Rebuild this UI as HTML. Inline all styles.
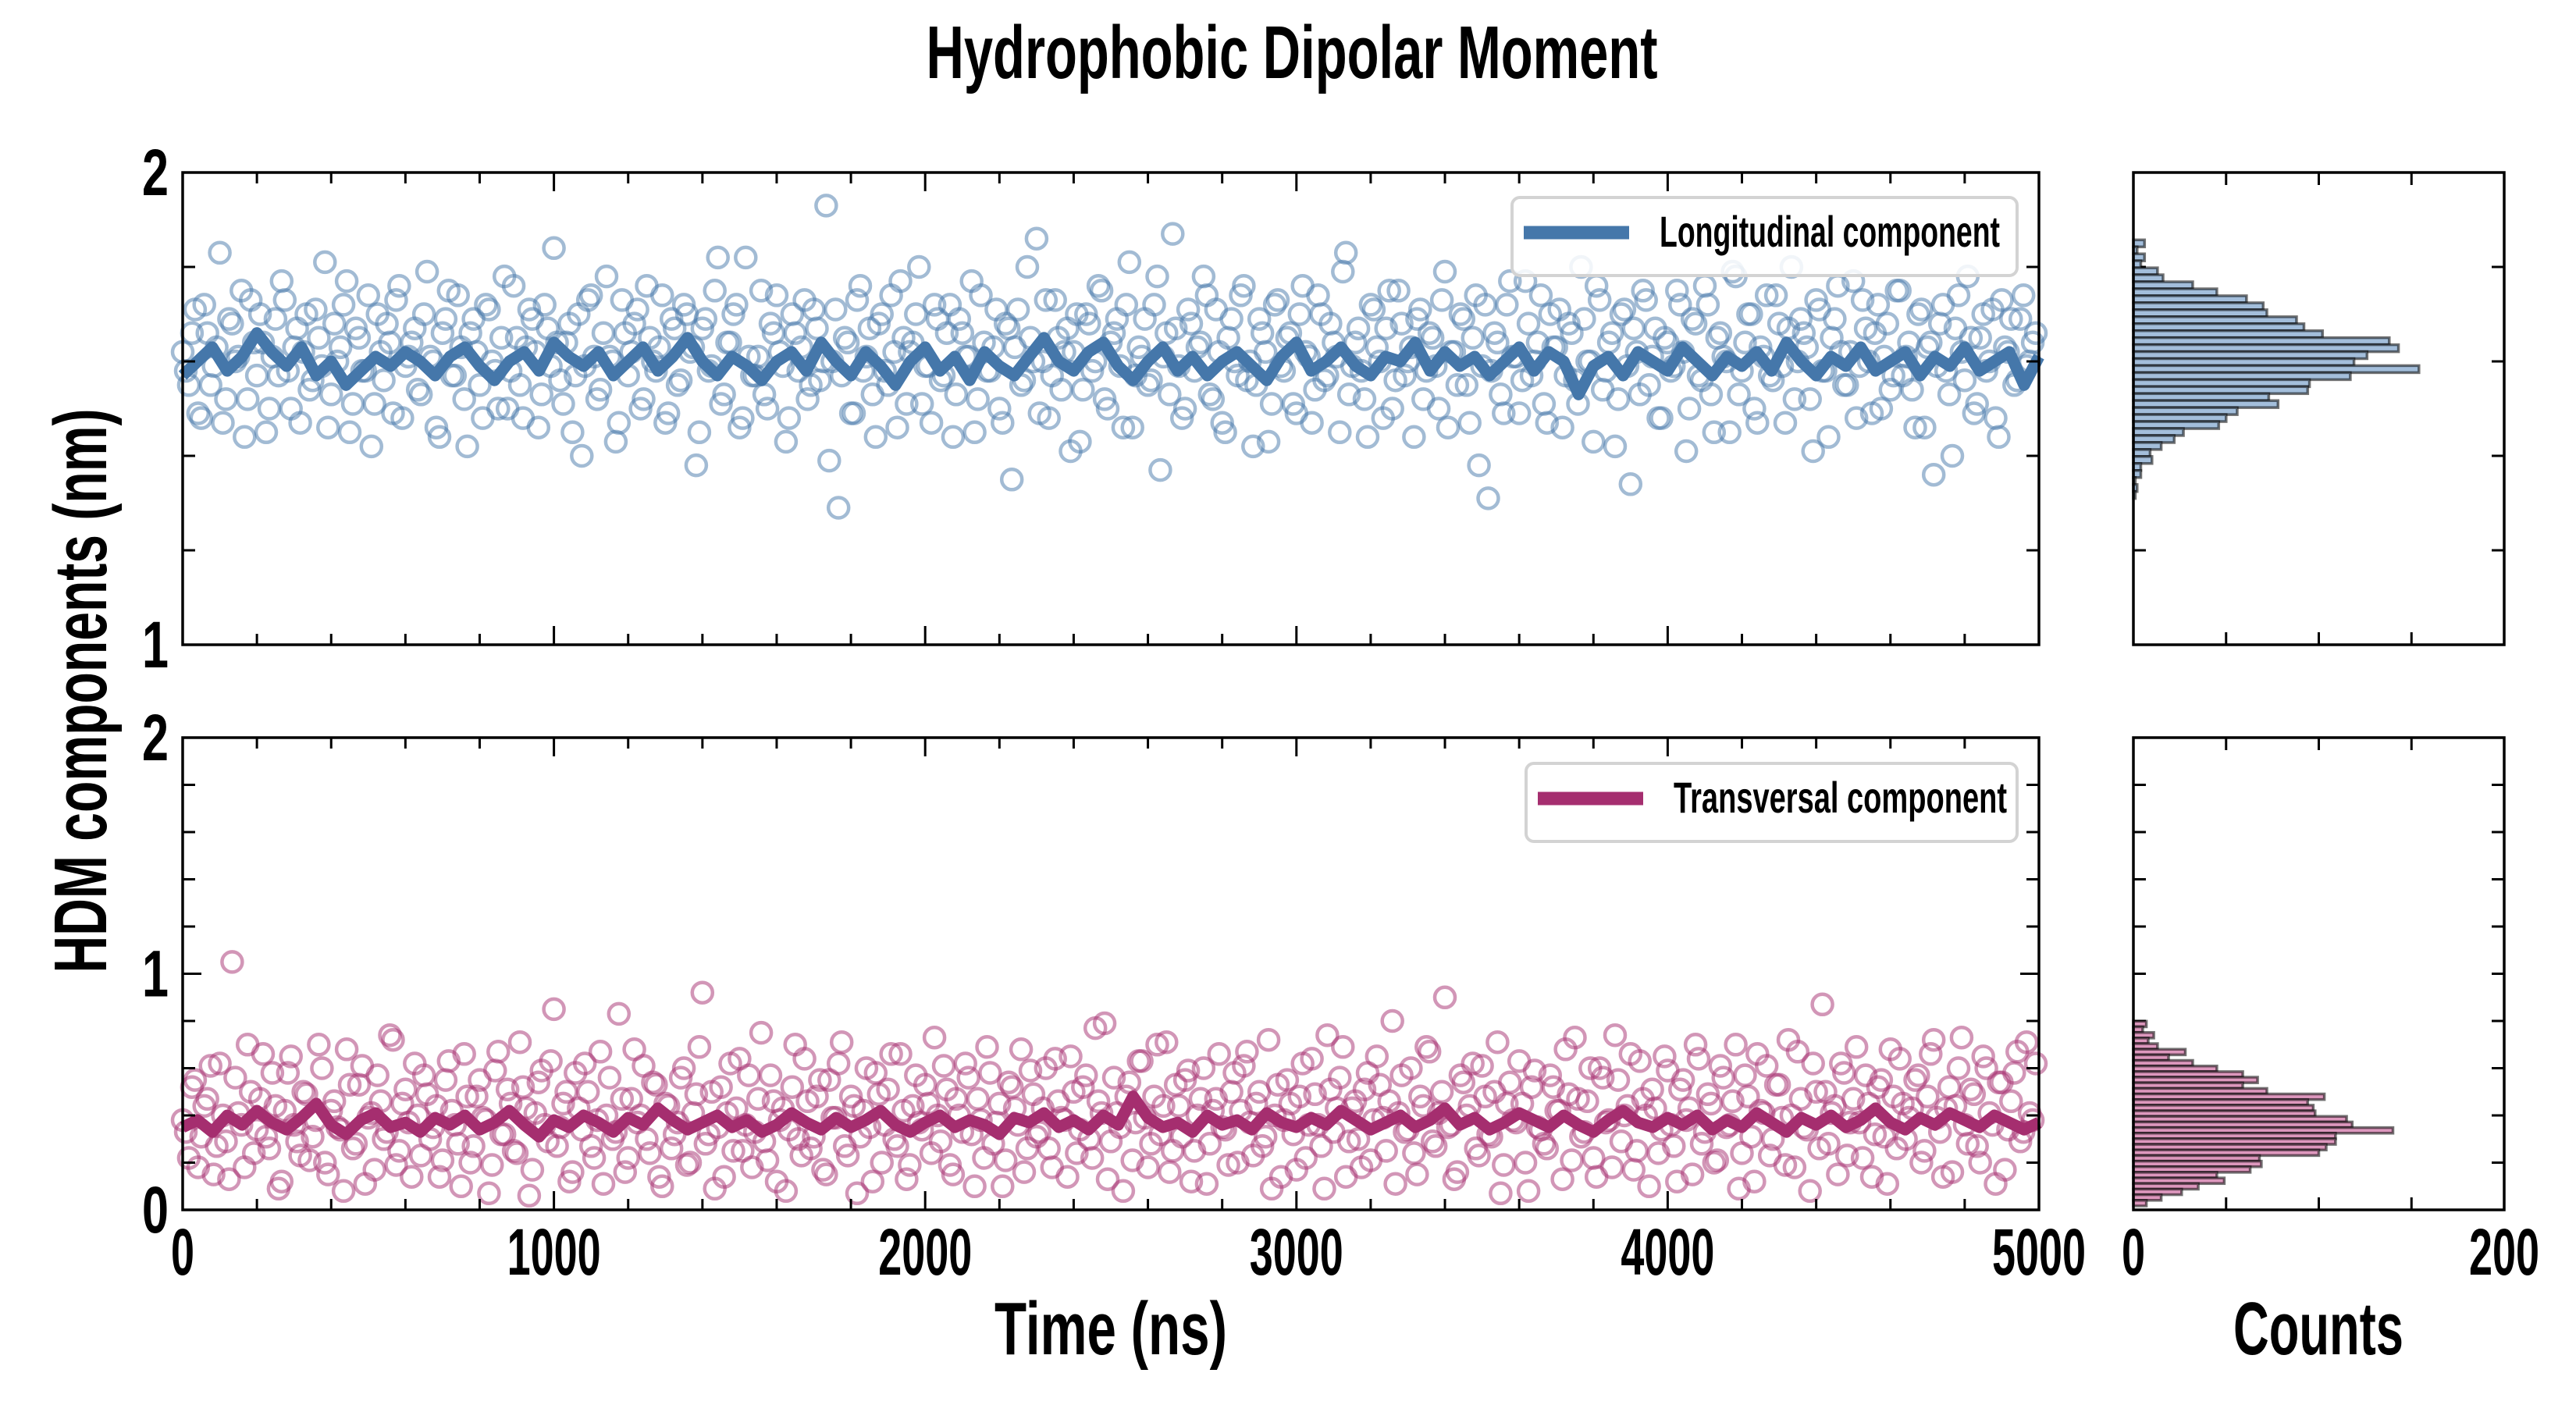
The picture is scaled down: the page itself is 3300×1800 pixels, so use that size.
<!DOCTYPE html>
<html><head><meta charset="utf-8"><title>Hydrophobic Dipolar Moment</title>
<style>
html,body{margin:0;padding:0;background:#fff;}
svg{display:block;}
text{font-family:"Liberation Sans Narrow","Liberation Sans",sans-serif;font-weight:bold;fill:#000;}
</style></head>
<body>
<svg id="chart" width="3300" height="1800" viewBox="0 0 3300 1800" xmlns="http://www.w3.org/2000/svg">
<rect width="3300" height="1800" fill="#fff"/>
<text x="1655" y="100" font-size="96" text-anchor="middle" textLength="937" lengthAdjust="spacingAndGlyphs">Hydrophobic Dipolar Moment</text>
<text transform="translate(136,885) rotate(-90)" font-size="96" text-anchor="middle" textLength="723" lengthAdjust="spacingAndGlyphs">HDM components (nm)</text>
<text x="1423" y="1735" font-size="96" text-anchor="middle" textLength="298" lengthAdjust="spacingAndGlyphs">Time (ns)</text>
<text x="2970" y="1735" font-size="96" text-anchor="middle" textLength="218" lengthAdjust="spacingAndGlyphs">Counts</text>
</svg>
<script>
// ---- data ----
var topScatter = [
1.62,1.55,1.71,1.48,1.66,1.59,1.83,1.52,1.68,1.61,1.44,1.73,1.57,1.64,1.50,1.69,1.77,1.58,1.63,1.47,
1.70,1.56,1.65,1.81,1.53,1.60,1.72,1.45,1.67,1.58,1.74,1.51,1.62,1.68,1.49,1.76,1.59,1.64,1.54,1.70,
1.61,1.46,1.66,1.75,1.57,1.63,1.42,1.69,1.55,1.72,1.60,1.50,1.78,1.58,1.65,1.48,1.71,1.62,1.53,1.67,
1.84,1.56,1.64,1.45,1.70,1.59,1.74,1.52,1.66,1.61,1.43,1.73,1.57,1.68,1.50,1.76,1.60,1.63,1.47,1.69,
1.55,1.72,1.62,1.38,1.67,1.58,1.75,1.51,1.64,1.70,1.46,1.82,1.57,1.61,1.53,1.68,1.74,1.59,1.48,1.66,
1.63,1.52,1.71,1.56,1.93,1.60,1.29,1.65,1.49,1.73,1.58,1.67,1.44,1.70,1.55,1.62,1.77,1.51,1.64,1.80,
1.59,1.47,1.69,1.57,1.72,1.53,1.66,1.61,1.45,1.74,1.58,1.63,1.50,1.68,1.35,1.71,1.56,1.65,1.86,1.60,
1.48,1.73,1.54,1.67,1.62,1.43,1.70,1.58,1.76,1.52,1.64,1.69,1.46,1.81,1.57,1.61,1.55,1.72,1.37,1.66,
1.87,1.59,1.50,1.68,1.63,1.78,1.53,1.71,1.47,1.65,1.60,1.74,1.56,1.42,1.69,1.62,1.51,1.73,1.58,1.66,
1.49,1.76,1.61,1.54,1.70,1.57,1.64,1.45,1.83,1.59,1.67,1.52,1.72,1.63,1.48,1.75,1.56,1.68,1.60,1.44,
1.71,1.58,1.65,1.50,1.79,1.62,1.55,1.69,1.47,1.74,1.59,1.31,1.66,1.53,1.72,1.61,1.49,1.77,1.57,1.64,
1.51,1.70,1.63,1.46,1.68,1.56,1.80,1.60,1.43,1.73,1.58,1.66,1.52,1.71,1.34,1.62,1.75,1.55,1.67,1.48,
1.64,1.59,1.72,1.41,1.69,1.57,1.76,1.53,1.65,1.61,1.45,1.78,1.58,1.70,1.50,1.63,1.74,1.56,1.68,1.47,
1.80,1.60,1.66,1.52,1.73,1.58,1.44,1.69,1.62,1.55,1.77,1.59,1.67,1.49,1.72,1.61,1.54,1.75,1.57,1.64,
1.46,1.71,1.63,1.36,1.68,1.58,1.40,1.74,1.56,1.65,1.51,1.70,1.60,1.48,1.73,1.62,1.55,1.69,1.59,1.64];
var topScatterB = [
1.58,1.66,1.49,1.72,1.55,1.63,1.47,1.69,1.60,1.75,1.52,1.64,1.70,1.45,1.61,1.57,1.73,1.50,1.67,1.62,
1.54,1.71,1.59,1.46,1.68,1.63,1.77,1.51,1.65,1.58,1.42,1.70,1.56,1.64,1.73,1.48,1.61,1.67,1.53,1.79,
1.60,1.44,1.69,1.57,1.74,1.52,1.66,1.62,1.48,1.71,1.58,1.65,1.50,1.76,1.55,1.63,1.69,1.46,1.72,1.59,
1.64,1.51,1.68,1.57,1.40,1.73,1.61,1.54,1.78,1.60,1.47,1.66,1.62,1.71,1.52,1.65,1.58,1.74,1.49,1.67,
1.56,1.70,1.63,1.45,1.69,1.59,1.82,1.53,1.64,1.72,1.48,1.61,1.57,1.75,1.50,1.66,1.62,1.43,1.70,1.58,
1.73,1.55,1.67,1.60,1.39,1.71,1.57,1.64,1.49,1.76,1.61,1.53,1.68,1.58,1.74,1.46,1.65,1.62,1.70,1.51,
1.59,1.72,1.56,1.66,1.44,1.69,1.61,1.77,1.52,1.64,1.58,1.71,1.47,1.67,1.63,1.55,1.80,1.60,1.49,1.73,
1.57,1.65,1.62,1.41,1.70,1.54,1.68,1.60,1.75,1.50,1.66,1.59,1.72,1.46,1.63,1.69,1.56,1.78,1.61,1.53,
1.67,1.48,1.71,1.58,1.64,1.74,1.52,1.62,1.45,1.69,1.57,1.76,1.60,1.55,1.66,1.43,1.72,1.59,1.65,1.51,
1.70,1.62,1.47,1.74,1.56,1.68,1.61,1.79,1.53,1.64,1.58,1.44,1.71,1.60,1.67,1.50,1.75,1.57,1.63,1.69,
1.52,1.66,1.59,1.73,1.46,1.62,1.70,1.55,1.65,1.38,1.72,1.58,1.64,1.49,1.77,1.61,1.56,1.68,1.60,1.74,
1.47,1.63,1.71,1.57,1.66,1.51,1.69,1.60,1.76,1.54,1.64,1.42,1.70,1.59,1.67,1.53,1.73,1.61,1.48,1.65,
1.58,1.75,1.62,1.50,1.68,1.56,1.72,1.45,1.66,1.60,1.79,1.53,1.64,1.70,1.47,1.61,1.57,1.74,1.59,1.67,
1.52,1.69,1.63,1.41,1.71,1.58,1.65,1.76,1.55,1.62,1.48,1.73,1.60,1.66,1.50,1.68,1.57,1.75,1.61,1.54,
1.70,1.46,1.64,1.59,1.72,1.53,1.67,1.62,1.78,1.49,1.65,1.58,1.71,1.44,1.63,1.69,1.56,1.74,1.60,1.66];
var bottomScatter = [
0.38,0.22,0.55,0.31,0.47,0.15,0.62,0.29,1.05,0.41,0.18,0.50,0.34,0.66,0.26,0.44,0.12,0.58,0.36,0.23,
0.49,0.31,0.70,0.20,0.42,0.35,0.08,0.53,0.28,0.61,0.39,0.17,0.46,0.33,0.72,0.25,0.51,0.14,0.40,0.57,
0.30,0.44,0.21,0.63,0.36,0.10,0.48,0.27,0.55,0.38,0.19,0.67,0.32,0.45,0.24,0.52,0.06,0.41,0.59,0.29,
0.85,0.35,0.50,0.16,0.43,0.62,0.27,0.38,0.11,0.56,0.33,0.47,0.22,0.68,0.40,0.30,0.54,0.14,0.45,0.26,
0.37,0.60,0.20,0.49,0.92,0.32,0.09,0.52,0.41,0.25,0.64,0.36,0.18,0.47,0.29,0.57,0.12,0.43,0.34,0.70,
0.23,0.46,0.31,0.55,0.15,0.39,0.62,0.27,0.48,0.07,0.42,0.35,0.58,0.20,0.51,0.30,0.66,0.13,0.44,0.37,
0.53,0.24,0.40,0.61,0.19,0.47,0.33,0.56,0.10,0.38,0.69,0.28,0.45,0.21,0.52,0.36,0.16,0.59,0.31,0.43,
0.26,0.64,0.39,0.14,0.50,0.34,0.57,0.22,0.46,0.79,0.29,0.41,0.08,0.54,0.37,0.63,0.18,0.48,0.32,0.71,
0.25,0.44,0.55,0.12,0.40,0.60,0.28,0.47,0.35,0.19,0.58,0.42,0.67,0.23,0.50,0.31,0.09,0.53,0.38,0.45,
0.17,0.62,0.36,0.49,0.27,0.74,0.33,0.56,0.14,0.43,0.30,0.51,0.21,0.65,0.39,0.46,0.11,0.57,0.34,0.24,
0.48,0.69,0.29,0.41,0.90,0.36,0.16,0.54,0.44,0.26,0.61,0.32,0.50,0.07,0.45,0.38,0.63,0.20,0.52,0.35,
0.28,0.57,0.42,0.13,0.49,0.73,0.31,0.46,0.22,0.60,0.37,0.18,0.55,0.40,0.66,0.25,0.47,0.10,0.43,0.34,
0.59,0.27,0.51,0.38,0.15,0.64,0.33,0.45,0.21,0.56,0.36,0.70,0.24,0.48,0.12,0.42,0.61,0.30,0.53,0.19,
0.40,0.67,0.35,0.08,0.50,0.87,0.28,0.44,0.62,0.23,0.47,0.37,0.57,0.14,0.52,0.31,0.68,0.26,0.45,0.39,
0.55,0.20,0.48,0.72,0.33,0.43,0.16,0.60,0.36,0.51,0.27,0.65,0.41,0.11,0.54,0.34,0.58,0.29,0.71,0.38];
var bottomScatterB = [
0.33,0.52,0.18,0.44,0.61,0.27,0.40,0.13,0.56,0.36,0.70,0.24,0.47,0.31,0.58,0.09,0.42,0.65,0.29,0.50,
0.21,0.38,0.60,0.15,0.46,0.34,0.68,0.26,0.53,0.11,0.41,0.57,0.30,0.74,0.19,0.45,0.37,0.62,0.23,0.49,
0.35,0.14,0.55,0.42,0.28,0.66,0.20,0.48,0.39,0.07,0.59,0.32,0.51,0.25,0.71,0.43,0.17,0.54,0.36,0.63,
0.27,0.45,0.12,0.58,0.34,0.50,0.22,0.67,0.40,0.30,0.83,0.16,0.47,0.37,0.61,0.24,0.53,0.10,0.44,0.32,
0.56,0.19,0.41,0.69,0.28,0.50,0.35,0.14,0.62,0.43,0.25,0.57,0.33,0.75,0.21,0.46,0.38,0.08,0.52,0.30,
0.64,0.26,0.48,0.17,0.55,0.39,0.71,0.23,0.44,0.31,0.60,0.12,0.49,0.36,0.66,0.27,0.42,0.19,0.57,0.34,
0.45,0.73,0.29,0.51,0.15,0.40,0.62,0.32,0.47,0.22,0.58,0.37,0.10,0.54,0.43,0.68,0.26,0.49,0.33,0.60,
0.18,0.46,0.38,0.65,0.24,0.52,0.30,0.77,0.41,0.13,0.56,0.35,0.48,0.21,0.63,0.39,0.28,0.70,0.44,0.16,
0.53,0.31,0.59,0.25,0.47,0.11,0.42,0.66,0.34,0.50,0.20,0.61,0.37,0.45,0.27,0.72,0.40,0.14,0.55,0.32,
0.48,0.22,0.64,0.36,0.09,0.51,0.43,0.69,0.29,0.46,0.18,0.58,0.38,0.53,0.25,0.80,0.41,0.33,0.60,0.15,
0.44,0.67,0.27,0.50,0.35,0.13,0.57,0.40,0.62,0.23,0.48,0.31,0.71,0.19,0.54,0.37,0.45,0.08,0.59,0.34,
0.26,0.52,0.42,0.68,0.21,0.47,0.33,0.60,0.14,0.56,0.38,0.74,0.29,0.44,0.17,0.63,0.40,0.51,0.24,0.65,
0.36,0.12,0.55,0.43,0.70,0.28,0.49,0.20,0.61,0.35,0.46,0.09,0.57,0.31,0.66,0.41,0.23,0.53,0.39,0.72,
0.18,0.47,0.34,0.62,0.26,0.50,0.41,0.15,0.58,0.37,0.69,0.22,0.45,0.32,0.55,0.11,0.48,0.64,0.30,0.43,
0.57,0.25,0.66,0.39,0.14,0.52,0.44,0.73,0.28,0.49,0.20,0.60,0.36,0.54,0.17,0.46,0.67,0.33,0.41,0.62];
var topLine = [
1.57,1.60,1.63,1.58,1.61,1.66,1.62,1.59,1.63,1.57,1.60,1.55,1.58,1.61,1.59,1.62,1.60,1.57,1.61,1.63,
1.59,1.56,1.60,1.62,1.58,1.64,1.61,1.59,1.62,1.57,1.60,1.63,1.58,1.61,1.65,1.60,1.57,1.61,1.59,1.56,
1.60,1.62,1.58,1.64,1.60,1.57,1.62,1.59,1.55,1.60,1.63,1.58,1.61,1.56,1.62,1.59,1.57,1.61,1.65,1.60,
1.58,1.62,1.64,1.59,1.56,1.60,1.63,1.58,1.61,1.57,1.60,1.62,1.59,1.56,1.61,1.64,1.58,1.60,1.63,1.59,
1.57,1.61,1.60,1.64,1.58,1.62,1.59,1.61,1.57,1.60,1.63,1.58,1.62,1.60,1.53,1.59,1.61,1.57,1.62,1.60,
1.58,1.63,1.60,1.57,1.61,1.59,1.62,1.58,1.64,1.60,1.57,1.61,1.59,1.63,1.58,1.60,1.62,1.57,1.61,1.59,
1.63,1.58,1.60,1.62,1.55,1.61];
var bottomLine = [
0.35,0.38,0.33,0.40,0.36,0.42,0.37,0.34,0.39,0.45,0.36,0.32,0.38,0.41,0.35,0.37,0.33,0.39,0.36,0.40,
0.34,0.37,0.42,0.36,0.31,0.38,0.35,0.40,0.37,0.33,0.39,0.36,0.43,0.38,0.34,0.37,0.40,0.35,0.38,0.33,
0.36,0.41,0.37,0.34,0.39,0.35,0.38,0.42,0.36,0.33,0.37,0.40,0.35,0.38,0.36,0.32,0.39,0.37,0.41,0.35,
0.38,0.34,0.40,0.36,0.48,0.39,0.35,0.37,0.33,0.40,0.36,0.38,0.34,0.41,0.37,0.35,0.39,0.36,0.42,0.38,
0.34,0.37,0.40,0.35,0.38,0.43,0.36,0.39,0.34,0.37,0.41,0.38,0.35,0.40,0.36,0.33,0.38,0.42,0.37,0.35,
0.39,0.36,0.40,0.34,0.38,0.35,0.41,0.37,0.33,0.39,0.36,0.40,0.35,0.38,0.43,0.37,0.34,0.39,0.36,0.41,
0.38,0.35,0.40,0.37,0.34,0.37];
var topHistCounts = [6,2,6,4,13,16,32,45,61,70,72,88,92,102,138,143,126,119,154,117,95,94,73,78,56,50,46,27,22,15,9,10,4,4,1,2,1];
var topHistStart = 1.850, topHistBin = 0.0148;
var bottomHistCounts = [7,5,11,8,13,28,19,32,45,59,67,59,72,103,94,97,98,115,118,140,109,109,104,100,68,69,63,45,49,35,26,15,7];
var bottomHistStart = 0.787, bottomHistBin = 0.0237;
var xTickLabels = ["0","1000","2000","3000","4000","5000"];
var countTickLabels = ["0","200"];

// ---- layout ----
var NS = "http://www.w3.org/2000/svg";
var svg = document.getElementById("chart");
var X0 = 234, X1 = 2612, HX0 = 2733, HX1 = 3208;
var panels = [
  {y0:221, y1:826, vmin:1, vmax:2, name:"top", color:"#4577aa", fill:"#a3bedb", scatters:[topScatter, topScatterB], line:topLine, hist:topHistCounts, hs:topHistStart, hb:topHistBin, labels:["1","2"], legend:"Longitudinal component", lx:1937, ly:253, lw:647, tw:436},
  {y0:945, y1:1550, vmin:0, vmax:2, name:"bottom", color:"#a52e6f", fill:"#dd97bd", scatters:[bottomScatter, bottomScatterB], line:bottomLine, hist:bottomHistCounts, hs:bottomHistStart, hb:bottomHistBin, labels:["0","1","2"], legend:"Transversal component", lx:1955, ly:978, lw:629, tw:427}
];
function xs(t){ return X0 + (t/5000)*(X1-X0); }
function hxs(c){ return HX0 + (c/200)*(HX1-HX0); }
function mk(tag, attrs, parent){ var e=document.createElementNS(NS,tag); for(var k in attrs) e.setAttribute(k, attrs[k]); (parent||svg).appendChild(e); return e; }

panels.forEach(function(p){
  function ys(v){ return p.y1 - (v-p.vmin)/(p.vmax-p.vmin)*(p.y1-p.y0); }
  var g = mk("g",{});
  
  
  var sg = mk("g",{fill:"none",stroke:p.color,"stroke-width":"4.5","stroke-opacity":"0.5"},g);
  
  
  p.scatters.forEach(function(arr, si){
    var step = 5000/arr.length;
    arr.forEach(function(v,i){
      var t = Math.min(5000, (i + (si ? 0.5 : 0)) * step);
      var c = mk("circle",{cx:xs(t).toFixed(1), cy:ys(v).toFixed(1), r:"13"}, sg);
      
      
    });
  });
  var pts = p.line.map(function(v,i){ return xs(i*5000/(p.line.length-1)).toFixed(1)+","+ys(v).toFixed(1); }).join(" ");
  var pl = mk("polyline",{points:pts,fill:"none",stroke:p.color,"stroke-width":"15","stroke-linejoin":"round"},g);
  
  
  var fr = mk("rect",{x:X0,y:p.y0,width:X1-X0,height:p.y1-p.y0,fill:"none",stroke:"#000","stroke-width":"3.5"},g);
  
  
  for(var t=0;t<=5000;t+=200){
    var L = (t%1000===0)?24:14, x=xs(t);
    var a = mk("line",{x1:x,x2:x,y1:p.y1,y2:p.y1-L,stroke:"#000","stroke-width":"3"},g);
     
    var b = mk("line",{x1:x,x2:x,y1:p.y0,y2:p.y0+L,stroke:"#000","stroke-width":"3"},g);
     
  }
  for(var k=0;k<=Math.round((p.vmax-p.vmin)/0.2);k++){
    var v=p.vmin+k*0.2, y=ys(v), L2=(Math.abs(v-Math.round(v))<1e-6)?24:16;
    var c1 = mk("line",{x1:X0,x2:X0+L2,y1:y,y2:y,stroke:"#000","stroke-width":"3"},g);
     
    var c2 = mk("line",{x1:X1,x2:X1-L2,y1:y,y2:y,stroke:"#000","stroke-width":"3"},g);
     
    var h1 = mk("line",{x1:HX0,x2:HX0+16,y1:y,y2:y,stroke:"#000","stroke-width":"3"},g);
     
    var h2 = mk("line",{x1:HX1,x2:HX1-16,y1:y,y2:y,stroke:"#000","stroke-width":"3"},g);
     
  }
  p.labels.forEach(function(s){
    var tx = mk("text",{x:X0-18,y:ys(parseFloat(s))+29,"font-size":"84","text-anchor":"end",textLength:"34",lengthAdjust:"spacingAndGlyphs"},g);
    tx.textContent = s;
     
  });
  var hg = mk("g",{},g);
  
  
  p.hist.forEach(function(cnt,i){
    var center = p.hs - i*p.hb;
    var yt = ys(center + p.hb/2), yb = ys(center - p.hb/2);
    var r = mk("rect",{x:HX0,y:yt.toFixed(1),width:(hxs(cnt)-HX0).toFixed(1),height:(yb-yt).toFixed(1),fill:p.fill,stroke:"#000","stroke-opacity":"0.55","stroke-width":"3.5"},hg);
    
    
  });
  var hf = mk("rect",{x:HX0,y:p.y0,width:HX1-HX0,height:p.y1-p.y0,fill:"none",stroke:"#000","stroke-width":"3.5"},g);
  
  
  for(var c=50;c<200;c+=50){
    var q1 = mk("line",{x1:hxs(c),x2:hxs(c),y1:p.y1,y2:p.y1-16,stroke:"#000","stroke-width":"3"},g);
     
    var q2 = mk("line",{x1:hxs(c),x2:hxs(c),y1:p.y0,y2:p.y0+16,stroke:"#000","stroke-width":"3"},g);
     
  }
  var lg = mk("g",{},g);
  
  
  mk("rect",{x:p.lx,y:p.ly,width:p.lw,height:100,rx:10,fill:"#fff","fill-opacity":"0.85",stroke:"#d3d3d3","stroke-width":"4"},lg);
  mk("line",{x1:p.lx+15,x2:p.lx+150,y1:p.ly+45,y2:p.ly+45,stroke:p.color,"stroke-width":"17"},lg);
  var lt = mk("text",{x:p.lx+189,y:p.ly+63,"font-size":"56",textLength:p.tw,lengthAdjust:"spacingAndGlyphs"},lg);
  lt.textContent = p.legend;
   
});

xTickLabels.forEach(function(s){
  var t = mk("text",{x:xs(parseFloat(s)),y:1633,"font-size":"84","text-anchor":"middle",textLength:String(30*s.length),lengthAdjust:"spacingAndGlyphs"});
  t.textContent = s;
  
  
});
countTickLabels.forEach(function(s){
  var t = mk("text",{x:hxs(parseFloat(s)),y:1633,"font-size":"84","text-anchor":"middle",textLength:String(30*s.length),lengthAdjust:"spacingAndGlyphs"});
  t.textContent = s;
  
  
});
</script>
</body></html>
